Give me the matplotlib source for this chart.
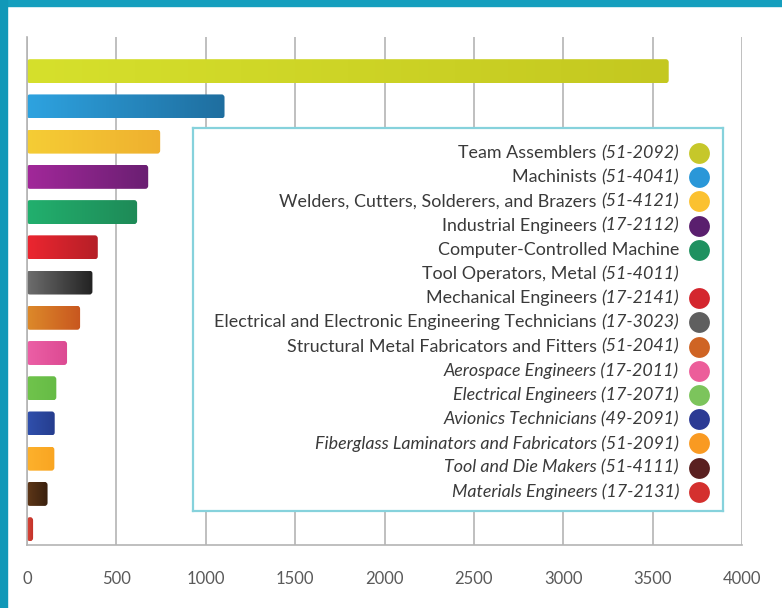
import numpy as np
import matplotlib
matplotlib.use("Agg")
import matplotlib.pyplot as plt
from matplotlib.colors import LinearSegmentedColormap
from matplotlib.patches import FancyBboxPatch, Rectangle

plt.rcParams['font.family'] = ['Lato', 'DejaVu Sans']

# data, top to bottom
names = ["Team Assemblers", "Machinists", "Welders, Cutters, Solderers, and Brazers",
         "Industrial Engineers", "Computer-Controlled Machine\nTool Operators, Metal",
         "Mechanical Engineers", "Electrical and Electronic Engineering Technicians",
         "Structural Metal Fabricators and Fitters", "Aerospace Engineers",
         "Electrical Engineers", "Avionics Technicians",
         "Fiberglass Laminators and Fabricators", "Tool and Die Makers",
         "Materials Engineers"]
codes = ["51-2092", "51-4041", "51-4121", "17-2112", "51-4011", "17-2141", "17-3023",
         "51-2041", "17-2011", "17-2071", "49-2091", "51-2091", "51-4111", "17-2131"]
values = [3590, 1105, 745, 678, 616, 396, 366, 297, 224, 164, 155, 153, 115, 34]
# entries written fully in italics in the key
all_italic = [False]*8 + [True]*6
# light (left) -> dark (right) bar colours, and dot colours
light = ["#d6e02c", "#2ea3e0", "#f5cd35", "#a2289a", "#22b06e", "#ec2630", "#6e6e6e",
         "#dd8a2a", "#ec5fa6", "#70c44c", "#3050ad", "#fdb12c", "#5e3718", "#d8463a"]
dark = ["#c4c820", "#1f6e9f", "#efb02f", "#6a1f72", "#1e8a57", "#b51f27", "#222222",
        "#c8561f", "#dc4a92", "#66bb46", "#253d8e", "#f9a522", "#3a200e", "#c03026"]
dots = ["#c6c72a", "#2a97d8", "#fbc130", "#5a1f6e", "#1f9160", "#d4262e", "#5f5f5f",
        "#cf6424", "#ec5e9a", "#7cc45c", "#2b3a94", "#f99a22", "#5a2020", "#d4302e"]
xticks = [0, 500, 1000, 1500, 2000, 2500, 3000, 3500, 4000]

W, H = 782, 608
fig = plt.figure(figsize=(W/100, H/100), dpi=100)
fig.patch.set_facecolor("white")

# teal frame on top and left
fig.patches.append(Rectangle((0, 1-6/H), 1, 6/H, transform=fig.transFigure,
                             color="#159fbe", zorder=0))
fig.patches.append(Rectangle((0, 0), 7/W, 1, transform=fig.transFigure,
                             color="#1198b8", zorder=0))

ax = fig.add_axes([27/W, 1-545/H, 715/W, 508/H])
ypos = np.arange(len(values))
bars = ax.barh(ypos, values, height=0.68, color=light)

grad = np.linspace(0, 1, 256).reshape(1, -1)
for b, c0, c1 in zip(bars, light, dark):
    x0, y0, w, h = b.get_x(), b.get_y(), b.get_width(), b.get_height()
    b.set_visible(False)
    shape = FancyBboxPatch((x0, y0), w, h, boxstyle="round,pad=0,rounding_size=16",
                           mutation_aspect=0.0055, facecolor="none", edgecolor="none")
    ax.add_patch(shape)
    cm = LinearSegmentedColormap.from_list("g", [c0, c1])
    im = ax.imshow(grad, cmap=cm, extent=(x0, x0+w, y0+h, y0), aspect="auto",
                   zorder=2, interpolation="bilinear")
    im.set_clip_path(shape)

ax.set_xlim(0, 4000)
ax.set_ylim(13.45, -0.97)
ax.set_xticks(xticks)
ax.set_yticks([])
ax.grid(axis="x", color="#b4b4b4", lw=1.2, zorder=0)
ax.set_axisbelow(True)
for s in ["top", "right"]:
    ax.spines[s].set_visible(False)
for s in ["left", "bottom"]:
    ax.spines[s].set_color("#b4b4b4")
    ax.spines[s].set_linewidth(1.2)
ax.tick_params(axis="x", length=0, pad=19, labelsize=12, labelcolor="#5a5a5a")

# key box
lax = fig.add_axes([193/W, 1-511/H, 530/W, 383/H])
lax.set_xlim(193, 723)
lax.set_ylim(511, 128)
lax.set_xticks([])
lax.set_yticks([])
for s in lax.spines.values():
    s.set_color("#86d2dc")
    s.set_linewidth(1.6)

fig.canvas.draw()
renderer = fig.canvas.get_renderer()
txt_kw = dict(fontsize=12.9, color="#3a3a3a", va="center", ha="right")
xr = 679
row = 0
for i, (n, code) in enumerate(zip(names, codes)):
    lines = n.split("\n")
    ydot = 153 + row*24.2
    lax.plot(699, ydot, "o", ms=15, color=dots[i], mec="none")
    for j, line in enumerate(lines):
        y = 153 + row*24.2
        last = j == len(lines) - 1
        if all_italic[i]:
            lax.text(xr, y, line + " (" + code + ")", style="italic", **txt_kw)
        elif last:
            t = lax.text(xr, y, "(" + code + ")", style="italic", **txt_kw)
            wpx = t.get_window_extent(renderer).width
            lax.text(xr - wpx, y, line + " ", **txt_kw)
        else:
            lax.text(xr, y, line, **txt_kw)
        row += 1

fig.savefig("out.png", dpi=100, facecolor="white")
